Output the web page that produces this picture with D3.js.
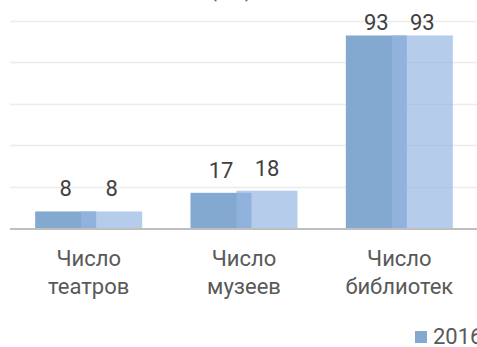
<!DOCTYPE html>
<html>
<head>
<meta charset="utf-8">
<script src="https://cdn.jsdelivr.net/npm/d3@7/dist/d3.min.js"></script>
<style>
  html, body { margin: 0; padding: 0; background: #fff; }
  svg { display: block; font-family: Roboto, "Noto Sans", sans-serif; }
</style>
</head>
<body>
<svg id="chart" width="477" height="347"></svg>
<script>
// Data
const categories = [["Число", "театров"], ["Число", "музеев"], ["Число", "библиотек"]];
const seriesNames = ["2016", "2017"];
const values2016 = [8, 17, 93];
const values2017 = [8, 18, 93];
const yTicks = [0, 20, 40, 60, 80, 100];
const title = "(ед.)";

const plot = { left: 11, right: 477, top: 21, bottom: 228 };
const svg = d3.select("#chart");

const x = d3.scaleBand()
  .domain(d3.range(categories.length))
  .range([plot.left, plot.right])
  .paddingInner(0).paddingOuter(0);

const y = d3.scaleLinear().domain([0, 100]).range([plot.bottom, plot.top]);

// Title (sits just above the top edge)
svg.append("text")
  .attr("x", 231).attr("y", -3)
  .attr("text-anchor", "middle")
  .attr("font-size", 20).attr("fill", "#595959")
  .text(title);

// Gridlines
svg.append("g")
  .selectAll("line")
  .data(yTicks.filter(d => d > 0))
  .join("line")
  .attr("x1", plot.left - 1).attr("x2", plot.right)
  .attr("y1", d => Math.round(y(d)) + 0.5).attr("y2", d => Math.round(y(d)) + 0.5)
  .attr("stroke", "#ececec").attr("stroke-width", 1.5);

// Bars: two overlapping columns per category
const barW = 61, step = 46;
const groupW = barW + step;
const series = [
  { name: seriesNames[0], values: values2016, fill: "#84a9d0", opacity: 1 },
  { name: seriesNames[1], values: values2017, fill: "#95b6e2", opacity: 0.7 }
];
const barX = (i, si) => x(i) + (x.bandwidth() - groupW) / 2 + si * step;

series.forEach((s, si) => {
  svg.append("g")
    .selectAll("rect")
    .data(s.values)
    .join("rect")
    .attr("x", (d, i) => barX(i, si))
    .attr("y", d => y(d))
    .attr("width", barW)
    .attr("height", d => y(0) - y(d))
    .attr("fill", s.fill)
    .attr("fill-opacity", s.opacity);
});

// Value labels (kept inside the plot area at the top)
series.forEach((s, si) => {
  svg.append("g")
    .selectAll("text")
    .data(s.values)
    .join("text")
    .attr("x", (d, i) => barX(i, si) + barW / 2)
    .attr("y", d => Math.max(y(d) - 15, 30))
    .attr("text-anchor", "middle")
    .attr("font-size", 22)
    .attr("fill", "#404040")
    .text(d => d);
});

// Category axis line
svg.append("line")
  .attr("x1", plot.left - 1).attr("x2", plot.right)
  .attr("y1", plot.bottom + 1).attr("y2", plot.bottom + 1)
  .attr("stroke", "#bfbfbf").attr("stroke-width", 2);

// Category labels
const xAxis = d3.axisBottom(x).tickSize(0).tickFormat(() => "");
const axisG = svg.append("g")
  .attr("transform", `translate(0,${plot.bottom})`)
  .call(xAxis);
axisG.select(".domain").remove();
axisG.selectAll(".tick").each(function(i) {
  const t = d3.select(this).append("text")
    .attr("text-anchor", "middle")
    .attr("font-size", 22)
    .attr("fill", "#595959")
    .attr("font-family", "Roboto, 'Noto Sans', sans-serif");
  categories[i].forEach((line, li) => {
    t.append("tspan").attr("x", 0).attr("y", 38 + li * 28).text(line);
  });
});

// Legend
const legend = svg.append("g").attr("transform", "translate(415,331)");
const items = legend.selectAll("g")
  .data(series)
  .join("g")
  .attr("transform", (d, i) => `translate(${i * 80},0)`);
items.append("rect")
  .attr("width", 12).attr("height", 12)
  .attr("fill", d => d.fill).attr("fill-opacity", d => d.opacity);
items.append("text")
  .attr("x", 18).attr("y", 12.5)
  .attr("font-size", 22).attr("fill", "#595959")
  .text(d => d.name);
</script>
</body>
</html>
